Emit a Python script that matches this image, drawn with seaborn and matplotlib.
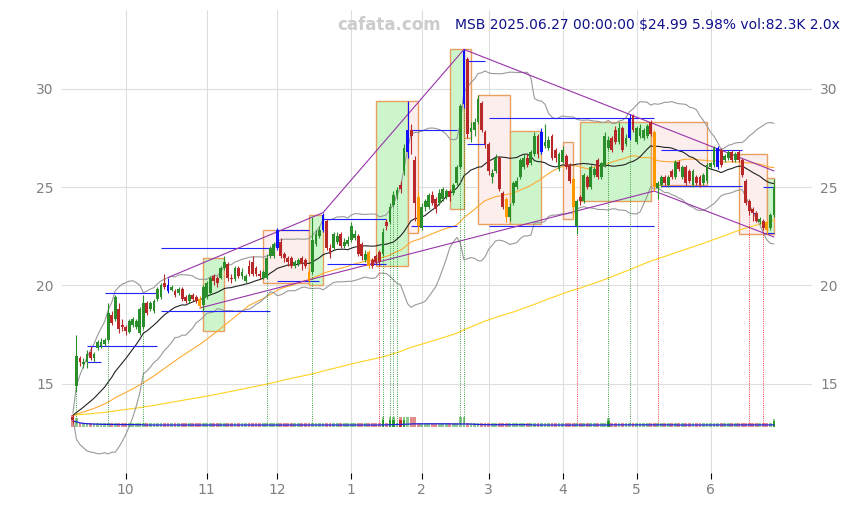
import matplotlib
matplotlib.use('Agg')
import matplotlib.pyplot as plt
import numpy as np
import pandas as pd
import seaborn as sns
from matplotlib.patches import Rectangle

# daily candles, 2024-09-10 .. 2025-06-27
opens = [
    13.3, 14.9, 16.3, 16.0, 16.1, 16.6, 16.3, 16.8, 16.9, 17.0, 17.2, 18.5, 18.3, 18.8, 18.0, 17.9, 17.65, 18.0, 17.9, 17.6,
    17.9, 19.1, 18.8, 18.7, 19.3, 19.4, 20.1, 20.0, 19.75, 19.7, 19.6, 19.8, 19.4, 19.2, 19.5, 19.4, 19.3, 19.0, 19.4, 19.6,
    20.5, 20.4, 20.4, 20.9, 21.1, 20.4, 20.3, 20.9, 20.5, 20.2, 21.0, 21.2, 20.9, 20.6, 20.4, 20.4, 21.5, 21.5, 21.9, 22.2,
    21.6, 21.4, 21.4, 21.0, 21.1, 21.4, 21.3, 20.7, 20.7, 22.1, 22.5, 22.8, 23.3, 21.9, 21.9, 22.2, 22.6, 22.0, 22.1, 22.3,
    22.4, 22.5, 22.1, 21.3, 21.7, 21.3, 21.5, 21.7, 21.6, 23.2, 23.2, 24.1, 24.6, 25.1, 25.8, 26.8, 27.9, 26.4, 24.5, 22.9,
    24.0, 24.0, 24.6, 24.4, 24.2, 24.4, 24.5, 24.8, 24.7, 25.2, 26.0, 29.2, 31.5, 27.8, 27.9, 28.3, 29.3, 27.8, 27.2, 25.5,
    25.8, 26.5, 24.7, 24.4, 23.5, 24.2, 25.0, 25.5, 26.0, 26.5, 26.2, 26.7, 27.6, 26.8, 27.1, 27.0, 27.6, 26.9, 25.9, 26.3,
    26.6, 26.1, 25.4, 23.0, 24.5, 24.3, 25.5, 25.0, 25.6, 26.4, 25.5, 26.1, 27.0, 27.5, 27.9, 27.3, 28.0, 27.2, 27.5, 28.6,
    27.3, 27.6, 27.5, 27.6, 28.3, 27.8, 24.95, 25.1, 25.5, 25.1, 25.8, 25.5, 26.3, 25.5, 26.0, 25.8, 25.1, 25.5, 25.5, 25.2,
    25.3, 26.0, 26.1, 26.0, 26.9, 26.4, 26.5, 26.8, 26.4, 26.8, 26.4, 25.3, 24.3, 23.9, 23.7, 23.2, 23.3, 23.2, 22.9, 23.6,
]
closes = [
    13.15, 16.4, 16.1, 16.1, 16.5, 16.3, 16.5, 17.1, 17.1, 17.2, 18.6, 18.1, 19.4, 17.8, 17.9, 17.7, 18.2, 18.3, 18.2, 18.8,
    19.1, 18.6, 19.1, 19.2, 19.8, 20.0, 19.9, 19.7, 19.9, 19.5, 19.8, 19.3, 19.2, 19.5, 19.3, 19.2, 18.95, 19.9, 20.1, 20.4,
    20.2, 20.1, 20.9, 21.2, 20.4, 20.3, 20.9, 20.5, 20.7, 20.5, 20.6, 20.6, 20.6, 20.5, 20.7, 21.4, 21.9, 22.1, 22.8, 21.5,
    21.4, 21.2, 21.0, 21.2, 21.3, 21.1, 21.0, 20.2, 22.3, 22.6, 22.8, 23.6, 21.9, 21.6, 22.6, 22.5, 22.0, 22.2, 22.3, 23.0,
    22.6, 21.6, 21.5, 21.6, 21.0, 21.0, 21.2, 21.2, 22.7, 23.0, 24.0, 24.6, 24.85, 24.9, 27.0, 27.9, 27.6, 24.2, 23.0, 24.0,
    24.3, 24.6, 24.2, 23.9, 24.7, 24.9, 24.8, 24.5, 25.1, 26.0, 29.1, 31.9, 27.7, 28.0, 28.3, 29.5, 27.9, 27.2, 25.8, 25.7,
    26.5, 24.9, 24.0, 23.5, 24.0, 25.2, 25.3, 26.4, 26.5, 26.1, 26.8, 27.6, 26.7, 27.8, 27.3, 27.4, 26.5, 26.5, 26.7, 26.9,
    26.0, 25.3, 24.0, 24.3, 24.3, 25.6, 25.0, 26.0, 25.9, 25.5, 26.2, 27.6, 27.4, 26.9, 27.3, 28.0, 26.9, 27.5, 28.5, 27.9,
    28.0, 28.0, 27.9, 28.1, 27.7, 25.0, 25.2, 25.5, 25.2, 25.5, 25.5, 26.3, 25.9, 26.0, 25.2, 25.3, 25.8, 25.2, 25.1, 25.6,
    26.1, 26.2, 27.0, 27.0, 26.1, 26.6, 26.8, 26.4, 26.7, 26.4, 25.6, 24.2, 23.8, 23.7, 23.3, 23.4, 22.9, 22.8, 23.58, 24.99,
]
highs = [
    13.4, 17.5, 16.4, 16.3, 16.7, 16.9, 16.6, 17.2, 17.3, 17.3, 19.1, 18.7, 19.5, 19.1, 18.3, 18.0, 18.3, 18.4, 18.3, 18.9,
    19.5, 19.2, 19.2, 19.3, 19.9, 20.1, 20.6, 20.4, 20.0, 19.8, 19.9, 19.9, 19.5, 19.6, 19.6, 19.5, 19.45, 20.0, 20.2, 20.5,
    20.6, 20.5, 21.0, 21.5, 21.2, 20.6, 21.0, 21.0, 20.9, 20.6, 21.3, 21.5, 21.0, 20.8, 20.8, 21.6, 22.0, 22.2, 22.9, 22.4,
    21.7, 21.5, 21.5, 21.3, 21.4, 21.5, 21.4, 20.9, 23.5, 22.8, 23.0, 23.7, 23.4, 22.1, 22.7, 22.7, 22.7, 22.4, 22.5, 23.2,
    22.8, 22.6, 22.2, 21.8, 21.8, 21.4, 21.6, 21.8, 22.9, 23.4, 24.2, 24.8, 25.0, 25.3, 27.2, 29.4, 28.2, 26.6, 24.8, 24.2,
    24.4, 24.7, 24.8, 24.5, 24.9, 25.0, 24.9, 24.9, 25.2, 26.1, 29.2, 32.0, 31.6, 28.3, 28.5, 29.7, 29.4, 27.9, 27.3, 25.9,
    26.7, 26.6, 24.8, 24.5, 24.2, 25.3, 25.5, 26.5, 26.7, 26.7, 26.9, 27.8, 27.7, 28.0, 28.2, 27.6, 27.7, 27.0, 26.8, 27.1,
    26.7, 26.2, 25.5, 24.4, 24.6, 25.7, 25.6, 26.1, 26.0, 26.5, 26.3, 27.8, 27.6, 27.6, 28.1, 28.3, 28.1, 27.7, 28.7, 28.7,
    28.1, 28.2, 28.0, 28.2, 28.4, 27.9, 25.3, 25.6, 25.6, 25.6, 25.9, 26.4, 26.4, 26.1, 26.1, 25.9, 25.9, 25.6, 25.6, 25.7,
    26.2, 26.3, 27.1, 27.1, 27.0, 26.7, 26.9, 26.9, 26.8, 26.9, 26.5, 25.4, 24.4, 24.0, 23.8, 23.5, 23.4, 23.3, 23.7, 25.4,
]
lows = [
    13.0, 14.6, 15.9, 15.8, 15.8, 16.2, 16.1, 16.7, 16.8, 16.9, 17.1, 18.0, 18.2, 17.6, 17.7, 17.5, 17.6, 17.9, 17.8, 17.5,
    17.8, 18.5, 18.7, 18.6, 19.2, 19.3, 19.8, 19.6, 19.7, 19.4, 19.5, 19.2, 19.1, 19.1, 19.2, 19.1, 18.85, 18.7, 19.3, 19.5,
    20.0, 19.9, 20.3, 20.8, 20.2, 20.1, 20.2, 20.4, 20.3, 20.1, 20.5, 20.5, 20.5, 20.3, 20.3, 20.3, 21.4, 21.4, 21.8, 21.4,
    21.2, 21.0, 20.9, 20.9, 21.0, 20.8, 20.9, 20.1, 20.6, 22.0, 22.4, 22.7, 21.8, 21.4, 21.8, 22.1, 21.9, 21.9, 22.0, 22.2,
    22.3, 21.5, 21.3, 21.2, 20.9, 20.9, 21.1, 21.0, 21.5, 22.8, 23.1, 24.0, 24.4, 24.7, 25.6, 26.5, 26.7, 23.3, 22.7, 22.8,
    23.8, 23.9, 24.1, 23.7, 24.1, 24.3, 24.4, 24.3, 24.6, 25.1, 25.9, 29.0, 27.5, 27.3, 27.6, 28.2, 27.8, 27.0, 25.6, 25.2,
    25.7, 24.8, 23.9, 23.2, 23.3, 24.1, 24.9, 25.4, 25.9, 26.0, 26.1, 26.6, 26.5, 26.7, 27.0, 26.9, 26.4, 26.3, 25.8, 26.2,
    25.9, 25.2, 23.5, 22.6, 24.1, 24.2, 24.9, 24.9, 25.5, 25.4, 25.4, 26.0, 26.9, 26.8, 27.2, 27.2, 26.8, 27.1, 27.4, 27.8,
    27.2, 27.5, 27.4, 27.5, 27.6, 24.8, 24.4, 25.0, 25.1, 25.0, 25.4, 25.4, 25.8, 25.4, 25.1, 25.2, 25.0, 25.1, 25.0, 25.1,
    25.2, 25.9, 26.0, 25.9, 26.0, 26.3, 26.4, 26.3, 26.3, 26.3, 25.5, 24.1, 23.6, 23.3, 23.2, 23.1, 22.8, 22.6, 22.8, 23.5,
]
vol_k = [
    120, 90, 40, 40, 40, 40, 40, 40, 40, 40, 40, 40, 40, 40, 40, 40, 40, 40, 40, 40,
    40, 40, 40, 40, 40, 40, 40, 40, 40, 40, 40, 40, 40, 40, 40, 40, 40, 40, 40, 40,
    40, 40, 40, 40, 40, 40, 40, 40, 40, 40, 40, 40, 40, 40, 40, 40, 40, 40, 40, 40,
    40, 40, 40, 40, 40, 40, 40, 40, 40, 40, 40, 40, 40, 40, 40, 40, 40, 40, 40, 40,
    40, 40, 40, 40, 40, 40, 40, 40, 100, 40, 100, 100, 40, 100, 100, 100, 100, 100, 40, 40,
    40, 40, 40, 40, 40, 40, 40, 40, 40, 40, 100, 100, 40, 40, 40, 40, 40, 40, 40, 40,
    40, 40, 40, 40, 40, 40, 40, 40, 40, 40, 40, 40, 40, 40, 40, 40, 40, 40, 40, 40,
    40, 40, 40, 40, 40, 40, 40, 40, 40, 40, 40, 40, 90, 40, 40, 40, 40, 40, 40, 40,
    40, 40, 40, 40, 40, 40, 40, 40, 40, 40, 40, 40, 40, 40, 40, 40, 40, 40, 40, 40,
    40, 40, 40, 40, 40, 40, 40, 40, 40, 40, 40, 40, 40, 40, 40, 40, 40, 40, 40, 82.3,
]

# level the averages start from at the left edge (price before the window)
prior_level = 13.4

# swing highs / lows highlighted on the chart
blue_days = [27, 58, 71, 95, 111, 133, 158, 183]
orange_days = [36, 67, 84, 98, 123, 142, 165, 197]

# signal markers (dotted verticals)
buy_days = [1, 10, 20, 55, 68, 88, 90, 91, 92, 110, 111, 152, 158]
sell_days = [87, 143, 166, 192, 196]

# zones: start day, end day, low, high, kind
box_start = [37, 54, 67, 86, 95, 107, 111, 115, 124, 139, 144, 164, 189, 197]
box_end = [43, 67, 71, 95, 98, 111, 113, 124, 133, 142, 164, 180, 197, 199]
box_low = [17.7, 20.1, 20.0, 21.0, 22.65, 23.9, 27.5, 23.1, 23.1, 23.4, 24.3, 25.1, 22.6, 22.6]
box_high = [21.4, 22.8, 23.6, 29.4, 29.4, 32.0, 32.0, 29.7, 27.85, 27.3, 28.3, 28.3, 26.7, 25.45]
box_up = [1, 0, 1, 1, 0, 1, 0, 0, 1, 0, 1, 0, 0, 1]

# support / resistance levels: price, first day, last day
level_price = [16.9, 16.1, 19.6, 21.9, 18.7, 22.8, 20.2, 21.1, 23.4, 27.9, 23.0, 31.4, 27.2,
               28.5, 23.0, 26.9, 25.05, 25.0, 22.65, 23.7]
level_from = [4, 4, 9, 25, 25, 58, 58, 72, 71, 96, 96, 112, 112, 118, 118, 167, 167, 196, 196, 193]
level_to = [24, 8, 24, 57, 56, 67, 70, 89, 89, 109, 109, 117, 117, 165, 165, 190, 190, 199, 199, 194]

# trend lines through swing points
trend_a = [27, 71, 111, 36, 165]
trend_b = [71, 111, 158, 165, 197]
trend_hi = [1, 1, 1, 0, 0]
trend_end = [71, 111, 199, 165, 199]

holidays = ['2024-11-28', '2024-12-25', '2025-01-01', '2025-01-09', '2025-01-20',
            '2025-02-17', '2025-04-18', '2025-05-26', '2025-06-19']


def build_frame():
    days = pd.bdate_range('2024-09-10', '2025-06-27')
    days = days[~days.isin(pd.to_datetime(holidays))]
    df = pd.DataFrame({'open': opens, 'close': closes, 'high': highs, 'low': lows,
                       'vol': vol_k}, index=days)
    df['i'] = np.arange(len(df))
    n = len(df)
    ext = pd.Series(np.concatenate([np.full(199, prior_level), df['close'].values]))
    sma20 = ext.rolling(20).mean()
    sd = ext.rolling(20).std()
    df['sma20'] = sma20.values[-n:]
    df['bb_up'] = (sma20 + 2 * sd).values[-n:]
    df['bb_dn'] = (sma20 - 2 * sd).values[-n:]
    df['sma50'] = ext.rolling(50).mean().values[-n:]
    df['sma200'] = ext.rolling(200).mean().values[-n:]
    df['vol_ma'] = df['vol'].rolling(20, min_periods=1).mean()
    return df


df = build_frame()
up = df['close'] >= df['open']

sns.set_theme(style='whitegrid')
fig, ax = plt.subplots(figsize=(8.49, 5.05), dpi=100)
fig.subplots_adjust(left=0.073, right=0.956, bottom=0.063, top=0.98)

# zones
for s, e, lo, hi, u in zip(box_start, box_end, box_low, box_high, box_up):
    ax.add_patch(Rectangle((s, lo), e - s, hi - lo, facecolor='#ccf5cc' if u else '#fdeeee',
                           edgecolor='#e8a060', lw=1.0, zorder=1))

# moving averages & bands
sns.lineplot(data=df, x='i', y='sma200', ax=ax, color='#ffd21f', lw=0.8, zorder=2)
sns.lineplot(data=df, x='i', y='sma50', ax=ax, color='#ffaa33', lw=0.8, zorder=2)
sns.lineplot(data=df, x='i', y='bb_up', ax=ax, color='#999999', lw=0.8, zorder=2)
sns.lineplot(data=df, x='i', y='bb_dn', ax=ax, color='#999999', lw=0.8, zorder=2)
sns.lineplot(data=df, x='i', y='sma20', ax=ax, color='#222222', lw=0.8, zorder=2)

# levels
ax.hlines(level_price, level_from, level_to, colors='#2222ff', lw=0.8, zorder=3)

# trend lines
for a, b, hi, end in zip(trend_a, trend_b, trend_hi, trend_end):
    col = df['high'] if hi else df['low']
    ya, yb = col.iloc[a], col.iloc[b]
    slope = (yb - ya) / (b - a)
    ax.plot([a, end], [ya, ya + slope * (end - a)], color='#9933aa', lw=0.8, zorder=3)

# volume strip
base = 12.8
vol_scale = 0.005
vcol = np.where(up, '#2e9e2e', '#c83030')
strong = (df['vol'] > 1.8 * df['vol_ma']).values
ax.bar(df['i'], df['vol'] * vol_scale, bottom=base, width=0.8, color=vcol,
       alpha=0.55, edgecolor='none', linewidth=0, zorder=3)
ax.bar(df['i'][strong], df['vol'][strong] * vol_scale * 0.7, bottom=base, width=0.8,
       color=vcol[strong], edgecolor='none', linewidth=0, zorder=3)
ax.plot(df['i'], base + df['vol_ma'] * vol_scale * 0.5, color='#2222dd', lw=0.9, zorder=4)

# signal verticals
ax.vlines(buy_days, base + 0.2, df['low'].iloc[buy_days], colors='green', lw=0.6,
          linestyles=':', zorder=3)
ax.vlines(sell_days, base + 0.2, df['low'].iloc[sell_days], colors='red', lw=0.6,
          linestyles=':', zorder=3)

# candles
colors = np.where(up, '#2a8f2a', '#b82828').astype(object)
colors[blue_days] = '#1010ff'
colors[orange_days] = '#ff9900'
body = (df['close'] - df['open']).abs().clip(lower=0.05)
ax.vlines(df['i'], df['low'], df['high'], colors=list(colors), lw=0.8, zorder=5)
ax.bar(df['i'], body, bottom=df[['open', 'close']].min(axis=1), width=0.8,
       color=list(colors), edgecolor='none', linewidth=0, zorder=5)

# axes
month_pos = df.groupby([df.index.year, df.index.month])['i'].first().values[1:]
month_lab = [str(d.month) for d in df.index[month_pos]]
ax.set_xticks(month_pos)
ax.set_xticklabels(month_lab)
ax.set_yticks([15, 20, 25, 30])
ax.set_xlim(-3.1, 209.7)
ax.set_ylim(10.45, 34.0)
ax.set_xlabel('')
ax.set_ylabel('')
ax.grid(color='#dddddd', lw=0.8)
for sp in ax.spines.values():
    sp.set_visible(False)
ax.tick_params(axis='y', labelleft=True, labelright=True, left=False, right=False,
               length=0, labelsize=10, labelcolor='#808080', pad=6)
ax.tick_params(axis='x', bottom=True, length=4, width=0.8, color='black',
               labelsize=10, labelcolor='#808080', pad=3)

fig.text(0.458, 0.951, 'cafata.com', color='#cccccc', fontsize=12, fontweight='bold',
         ha='center', va='center')
fig.text(0.536, 0.951, 'MSB 2025.06.27 00:00:00 $24.99 5.98% vol:82.3K 2.0x',
         color='#10108a', fontsize=10, ha='left', va='center')

fig.savefig('out.png', dpi=100)
